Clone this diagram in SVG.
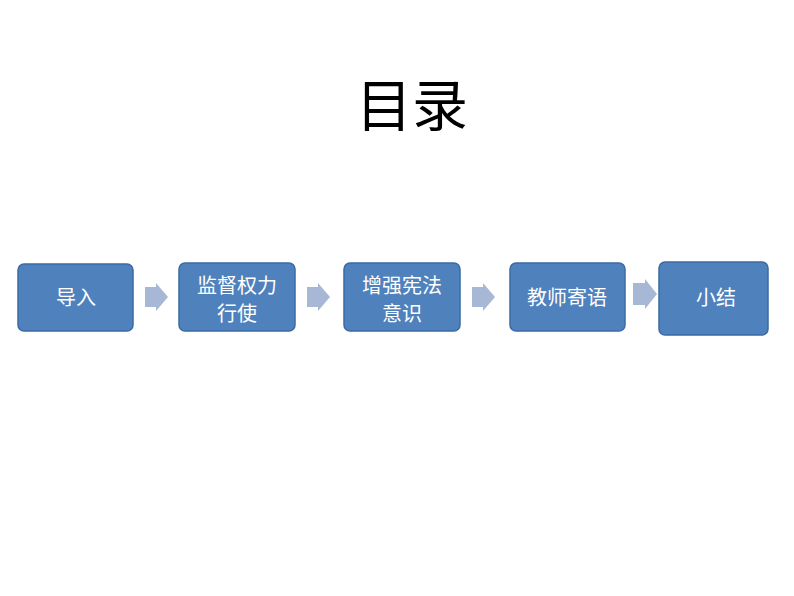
<svg xmlns="http://www.w3.org/2000/svg" width="794" height="596" viewBox="0 0 794 596">
<style>
.box{fill:#4F81BD;stroke:#3B6BA3;stroke-width:1.5}
.t{fill:#fff;font-family:"Noto Sans CJK SC",sans-serif;font-size:20px;text-anchor:middle}
.arr{fill:#A7B7D6}
</style>
<rect width="794" height="596" fill="#fff"/>
<text x="412" y="126" font-family="Noto Sans CJK SC, serif" font-size="56" text-anchor="middle" fill="#000">目录</text>
<g id="connectors">
<path class="arr" d="M145,287 H156 V283 L168,297 L156,311 V307 H145 Z"/>
<path class="arr" d="M307,287 H318 V283 L330,297 L318,311 V307 H307 Z"/>
<path class="arr" d="M472,287 H483 V283 L495,297 L483,311 V307 H472 Z"/>
<path class="arr" d="M633,283 H645 V279 L657,294 L645,309 V305 H633 Z"/>
</g>
<g id="n1"><rect class="box" x="18" y="264" width="115" height="67" rx="6"/><text class="t" x="76" y="305">导入</text></g>
<g id="n2"><rect class="box" x="179" y="263" width="116" height="68" rx="6"/><text class="t" x="237" y="293">监督权力</text><text class="t" x="237" y="321">行使</text></g>
<g id="n3"><rect class="box" x="344" y="263" width="116" height="68" rx="6"/><text class="t" x="402" y="293">增强宪法</text><text class="t" x="402" y="321">意识</text></g>
<g id="n4"><rect class="box" x="510" y="263" width="115" height="68" rx="6"/><text class="t" x="567" y="305">教师寄语</text></g>
<g id="n5"><rect class="box" x="659" y="262" width="109" height="73" rx="6"/><text class="t" x="716" y="305">小结</text></g>
</svg>
